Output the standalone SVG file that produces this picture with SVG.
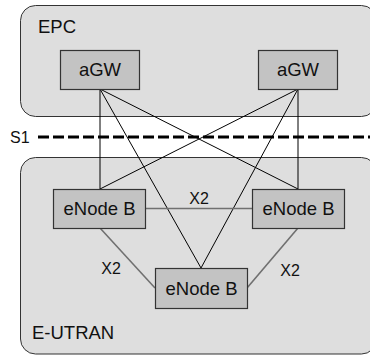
<svg xmlns="http://www.w3.org/2000/svg" width="370" height="355" viewBox="0 0 370 355">
<style>
.region{fill:#dedede;stroke:#333;stroke-width:1}
.node{fill:#c3c3c3;stroke:#333;stroke-width:1.2}
.t{font-family:"Liberation Sans",Arial,sans-serif;font-size:18.5px;fill:#111}
.s{font-family:"Liberation Sans",Arial,sans-serif;font-size:16px;fill:#111}
.s1{stroke:#000;stroke-width:1}
.x2{stroke:#707070;stroke-width:1.6}
</style>
<rect width="370" height="355" fill="#fff"/>
<g id="epc">
<rect class="region" x="20.5" y="5.5" width="356" height="111" rx="15"/>
<text class="t" x="38" y="33">EPC</text>
</g>
<g id="eutran">
<rect class="region" x="20.5" y="157.5" width="356" height="196.5" rx="15"/>
<text class="t" x="32" y="339">E-UTRAN</text>
</g>
<g id="s1-boundary">
<line x1="38" y1="137" x2="370" y2="137" stroke="#000" stroke-width="3" stroke-dasharray="11 4"/>
<text class="s" x="10" y="143">S1</text>
</g>
<g id="connectors">
<line class="s1" x1="100" y1="89" x2="100" y2="189"/>
<line class="s1" x1="100" y1="89" x2="298" y2="189"/>
<line class="s1" x1="100" y1="89" x2="201" y2="268"/>
<line class="s1" x1="298" y1="89" x2="298" y2="189"/>
<line class="s1" x1="298" y1="89" x2="100" y2="189"/>
<line class="s1" x1="298" y1="89" x2="201" y2="268"/>
<line class="x2" x1="145" y1="208.5" x2="253" y2="208.5"/>
<line class="x2" x1="100" y1="228" x2="155" y2="288"/>
<line class="x2" x1="298" y1="228" x2="247" y2="288"/>
<text class="s" x="199" y="204" text-anchor="middle">X2</text>
<text class="s" x="111" y="274" text-anchor="middle">X2</text>
<text class="s" x="290" y="276" text-anchor="middle">X2</text>
</g>
<g id="agw-left">
<rect class="node" x="60.5" y="50.5" width="79" height="39"/>
<text class="t" x="100" y="76" text-anchor="middle">aGW</text>
</g>
<g id="agw-right">
<rect class="node" x="258.5" y="50.5" width="79" height="39"/>
<text class="t" x="298" y="76" text-anchor="middle">aGW</text>
</g>
<g id="enb-left">
<rect class="node" x="53.5" y="189.5" width="92" height="39"/>
<text class="t" x="99.5" y="215" text-anchor="middle">eNode B</text>
</g>
<g id="enb-right">
<rect class="node" x="252.5" y="189.5" width="92" height="39"/>
<text class="t" x="298.5" y="215" text-anchor="middle">eNode B</text>
</g>
<g id="enb-bottom">
<rect class="node" x="155.5" y="268.5" width="92" height="40"/>
<text class="t" x="201.5" y="295" text-anchor="middle">eNode B</text>
</g>
</svg>
